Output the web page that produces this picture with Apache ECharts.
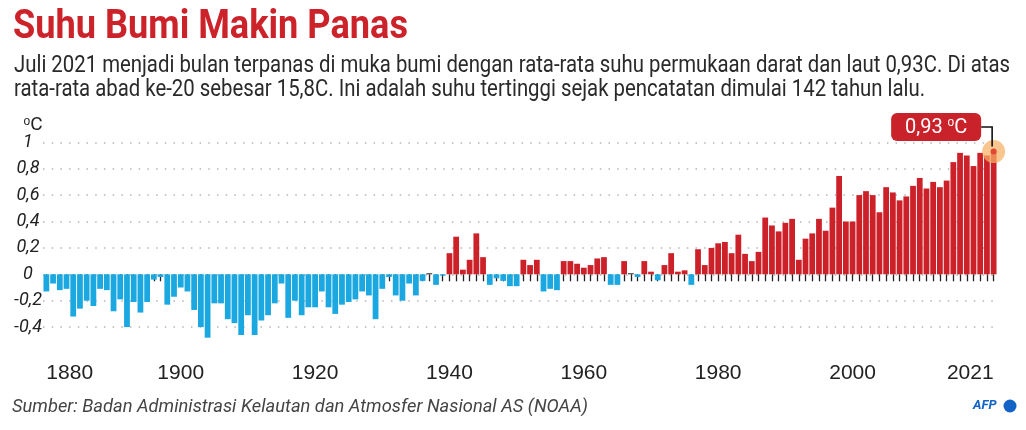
<!DOCTYPE html>
<html><head><meta charset="utf-8">
<script src="https://cdn.jsdelivr.net/npm/echarts@6/dist/echarts.min.js"></script>
<style>html,body{margin:0;padding:0;background:#fff}#c{width:1026px;height:430px}</style>
</head><body><div id="c"></div>
<script>
const firstYear = 1880;
const lastYear = 2021;
const anomalies = [
  -0.13,-0.07,-0.12,-0.11,-0.32,-0.26,-0.20,-0.24,-0.11,-0.12,
  -0.28,-0.19,-0.40,-0.21,-0.29,-0.21,-0.04,-0.02,-0.23,-0.17,
  -0.10,-0.13,-0.27,-0.40,-0.48,-0.22,-0.22,-0.34,-0.37,-0.46,
  -0.31,-0.46,-0.35,-0.31,-0.22,-0.07,-0.33,-0.20,-0.31,-0.25,
  -0.25,-0.13,-0.25,-0.30,-0.23,-0.21,-0.19,-0.13,-0.16,-0.34,
  -0.11,-0.02,-0.16,-0.20,-0.07,-0.16,-0.05,0.00,-0.08,-0.01,
  0.16,0.285,0.035,0.11,0.31,0.13,-0.08,-0.03,-0.05,-0.09,
  -0.09,0.11,0.07,0.11,-0.13,-0.11,-0.12,0.10,0.10,0.08,
  0.05,0.07,0.12,0.13,-0.08,-0.08,0.10,0.00,-0.02,0.10,
  0.02,-0.045,0.07,0.16,0.02,0.03,-0.08,0.19,0.07,0.20,
  0.235,0.245,0.16,0.30,0.155,0.10,0.17,0.43,0.37,0.325,
  0.39,0.42,0.11,0.27,0.31,0.42,0.33,0.505,0.745,0.40,
  0.40,0.60,0.63,0.60,0.47,0.66,0.62,0.56,0.59,0.67,
  0.73,0.65,0.70,0.66,0.71,0.85,0.92,0.90,0.82,0.92,
  0.90,0.93
];
const xLabelYears = [1880,1900,1920,1940,1960,1980,2000,2021];
const yTicks = [-0.6,-0.4,-0.2,0,0.2,0.4,0.6,0.8,1];
const yTickLabels = ['', '-0,4','-0,2','0','0,2','0,4','0,6','0,8','1'];
const unitLabel = '{s|o}C';
const highlightYear = 2021;
const highlightValue = 0.93;
const highlightLabel = '0,93 {s|o}C';
const titleText = 'Suhu Bumi Makin Panas';
const subtitleLines = [
  'Juli 2021 menjadi bulan terpanas di muka bumi dengan rata-rata suhu permukaan darat dan laut 0,93C. Di atas',
  'rata-rata abad ke-20 sebesar 15,8C. Ini adalah suhu tertinggi sejak pencatatan dimulai 142 tahun lalu.'
];
const sourceText = 'Sumber: Badan Administrasi Kelautan dan Atmosfer Nasional AS (NOAA)';

const years = [];
for (let y = firstYear; y <= lastYear; y++) years.push(String(y));

const RED = '#cd2129', BLUE = '#1ba7e0';
const COND = "'Roboto','Liberation Sans',sans-serif";

const measureCtx = document.createElement('canvas').getContext('2d');
function fitScale(text, font, target) {
  measureCtx.font = font;
  return target / measureCtx.measureText(text).width;
}

const chart = echarts.init(document.getElementById('c'));
chart.setOption({
  animation: false,
  backgroundColor: '#fff',
  grid: {left: 43, right: 29, top: 142.3, bottom: 76.5, containLabel: false},
  xAxis: {
    type: 'category', data: years, boundaryGap: true, offset: 3,
    axisLine: {show: false},
    axisTick: {show: true, interval: 0, alignWithLabel: true, length: 7, lineStyle: {color: '#222', width: 1.3}},
    axisLabel: {
      interval: (i, v) => xLabelYears.includes(+v),
      alignMinLabel: 'left', alignMaxLabel: 'right',
      margin: 6, fontSize: 21, color: '#222', fontFamily: "'Liberation Sans','Arial',sans-serif"
    }
  },
  yAxis: {
    type: 'value', min: -0.6, max: 1, interval: 0.2,
    axisLine: {show: false}, axisTick: {show: false},
    axisLabel: {
      formatter: v => { const i = yTicks.findIndex(t => Math.abs(t - v) < 1e-6); return i >= 0 ? yTickLabels[i] : ''; },
      align: 'center', margin: 15, fontSize: 18, fontStyle: 'italic', color: '#222', fontFamily: COND
    },
    splitLine: {show: true, lineStyle: {color: ['rgba(0,0,0,0)','#b4b4b4','#b4b4b4','#b4b4b4','#b4b4b4','#b4b4b4','#b4b4b4','#b4b4b4','#b4b4b4'], type: [1.5, 7.2], width: 1.5}}
  },
  series: [{
    type: 'bar', data: anomalies, barCategoryGap: '14%', barMinHeight: 1,
    itemStyle: {color: p => p.value > 0 ? RED : (p.value < 0 ? BLUE : '#222')}
  }]
});

const titleFont = "bold 40px 'Roboto'";
const subFont = "23px 'Roboto'";
const srcFont = "italic 19px 'Roboto'";
const titleScale = fitScale(titleText, titleFont, 395);
const subScale = fitScale(subtitleLines[0], subFont, 996);
const srcScale = fitScale(sourceText, srcFont, 576);

const p = chart.convertToPixel({xAxisIndex: 0, yAxisIndex: 0}, [String(highlightYear), highlightValue]);
const yTop = chart.convertToPixel({yAxisIndex: 0}, 1);
const boxW = 90, boxH = 28;
const boxRight = p[0] - 12.5, boxTop = p[1] - 38.5;
const midY = boxTop + boxH / 2;
chart.setOption({
  graphic: [
    {type: 'text', x: 13, y: 28, scaleX: titleScale, style: {text: titleText, fill: '#cc2229', font: titleFont, verticalAlign: 'middle'}},
    {type: 'text', x: 14, y: 66, scaleX: subScale, style: {text: subtitleLines[0], fill: '#2a2a2a', font: subFont, verticalAlign: 'middle'}},
    {type: 'text', x: 14, y: 90.5, scaleX: subScale, style: {text: subtitleLines[1], fill: '#2a2a2a', font: subFont, verticalAlign: 'middle'}},
    {type: 'text', x: 12, y: 407, scaleX: srcScale, style: {text: sourceText, fill: '#444', font: srcFont, verticalAlign: 'middle'}},
    {type: 'text', x: 33, y: yTop - 17, style: {text: unitLabel, fill: '#222', font: "19px 'Roboto'", align: 'center', verticalAlign: 'middle',
      rich: {s: {fontSize: 12, fill: '#222', verticalAlign: 'top', padding: [0, 0, 8, 0]}}}},
    {type: 'circle', z: 100, shape: {cx: p[0], cy: p[1], r: 11.5}, style: {fill: 'rgba(246,176,100,0.72)'}},
    {type: 'circle', z: 101, shape: {cx: p[0], cy: p[1], r: 3}, style: {fill: '#e2482f'}},
    {type: 'polyline', z: 101, shape: {points: [[boxRight, midY], [p[0] - 1.5, midY], [p[0] - 1.5, p[1] - 5]]}, style: {stroke: '#111', lineWidth: 1.6, fill: null}},
    {type: 'rect', z: 102, shape: {x: boxRight - boxW, y: boxTop, width: boxW, height: boxH, r: 6}, style: {fill: '#c9222b'}},
    {type: 'text', z: 103, x: boxRight - boxW / 2, y: boxTop + boxH / 2 + 1,
      style: {text: highlightLabel, fill: '#fff', font: "20px 'Roboto'", align: 'center', verticalAlign: 'middle',
        rich: {s: {fontSize: 12, fill: '#fff', verticalAlign: 'top', padding: [0, 0, 10, 0]}}}},
    {type: 'text', z: 50, x: 973, y: 406, style: {text: 'AFP', fill: '#1464c8', font: "italic bold 13px 'Roboto'", verticalAlign: 'middle'}},
    {type: 'circle', z: 50, shape: {cx: 1010, cy: 406, r: 6.5}, style: {fill: '#1464c8'}}
  ]
});
</script></body></html>
